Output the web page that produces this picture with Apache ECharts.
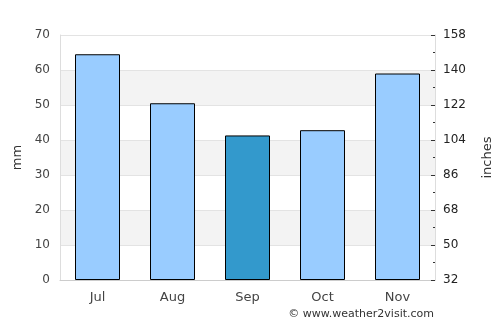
<!DOCTYPE html>
<html>
<head>
<meta charset="utf-8">
<script src="https://cdn.jsdelivr.net/npm/echarts@6/dist/echarts.min.js"></script>
<style>
  html, body { margin: 0; padding: 0; background: #fff; }
  #main { width: 500px; height: 325px; }
</style>
</head>
<body>
<div id="main"></div>
<script>
// months and rainfall (mm)
var months = ['Jul', 'Aug', 'Sep', 'Oct', 'Nov'];
var rain = [64.5, 50.5, 41.3, 42.8, 59.0];
var highlight = 'Sep';
// right axis labels, one per left tick 0..70
var rightLabels = ['32', '50', '68', '86', '104', '122', '140', '158'];

var chart = echarts.init(document.getElementById('main'));

var barData = [];
for (var i = 0; i < months.length; i++) {
  barData.push({
    value: rain[i],
    itemStyle: { color: months[i] == highlight ? '#3399cc' : '#99ccff' }
  });
}

chart.setOption({
  animation: false,
  textStyle: { fontFamily: 'DejaVu Sans' },
  grid: { left: 60, right: 65, top: 35, bottom: 45, outerBoundsMode: 'none' },
  xAxis: {
    type: 'category',
    data: months,
    axisLine: { show: true, lineStyle: { color: '#cccccc' } },
    axisTick: { show: false },
    axisLabel: { color: '#444', fontSize: 13, margin: 11 }
  },
  yAxis: [
    {
      type: 'value',
      min: 0,
      max: 70,
      interval: 10,
      name: 'mm',
      nameLocation: 'middle',
      nameGap: 34,
      nameTextStyle: { color: '#333', fontSize: 13 },
      axisLine: { show: true, lineStyle: { color: '#dddddd' } },
      axisTick: { show: false },
      axisLabel: { color: '#444', fontSize: 12, margin: 10 },
      splitLine: { show: true, lineStyle: { color: '#e3e3e3' } },
      splitArea: { show: true, areaStyle: { color: ['#ffffff', '#f3f3f3'] } }
    },
    {
      type: 'value',
      position: 'right',
      min: 0,
      max: 70,
      interval: 10,
      name: 'inches',
      nameLocation: 'middle',
      nameGap: 46,
      nameTextStyle: { color: '#333', fontSize: 13 },
      axisLine: { show: true, lineStyle: { color: '#dddddd' } },
      axisTick: { show: true, inside: true, length: 4, lineStyle: { color: '#333' } },
      minorTick: { show: true, splitNumber: 2, length: 2, lineStyle: { color: '#333' } },
      axisLabel: {
        color: '#222', fontSize: 12, margin: 8,
        formatter: function (v) { return rightLabels[Math.round(v / 10)]; }
      },
      splitLine: { show: false }
    }
  ],
  series: [
    {
      type: 'bar',
      data: barData,
      barWidth: '60%',
      itemStyle: { borderColor: '#000', borderWidth: 1 }
    }
  ],
  graphic: [
    {
      type: 'text',
      right: 66,
      bottom: 5,
      style: { text: '© www.weather2visit.com', fill: '#333', font: '11px DejaVu Sans' }
    }
  ]
});
</script>
</body>
</html>
